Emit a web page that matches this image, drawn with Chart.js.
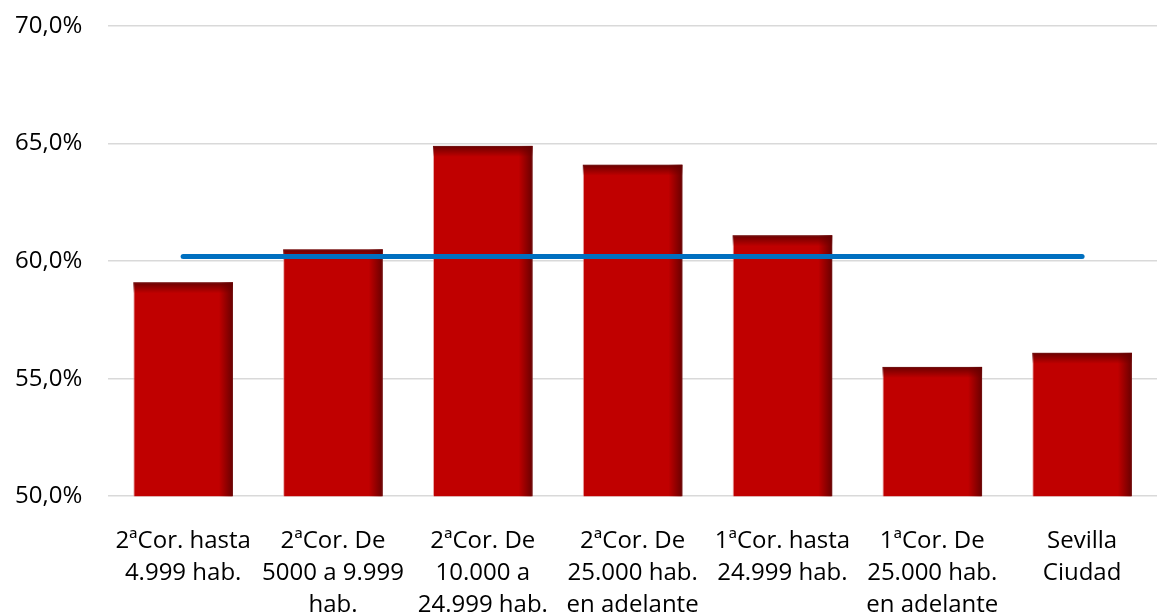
<!DOCTYPE html>
<html>
<head>
<meta charset="utf-8">
<script src="https://cdn.jsdelivr.net/npm/chart.js@4/dist/chart.umd.min.js"></script>
<style>
  html, body { margin: 0; padding: 0; background: #fff; }
  #wrap { width: 1157px; height: 616px; }
</style>
</head>
<body>
<div id="wrap"><canvas id="chart"></canvas></div>
<script>
/* data */
const categories = [
  ["2ªCor. hasta", "4.999 hab."],
  ["2ªCor. De", "5000 a 9.999", "hab."],
  ["2ªCor. De", "10.000 a", "24.999 hab."],
  ["2ªCor. De", "25.000 hab.", "en adelante"],
  ["1ªCor. hasta", "24.999 hab."],
  ["1ªCor. De", "25.000 hab.", "en adelante"],
  ["Sevilla", "Ciudad"]
];
const barValues = [59.1, 60.5, 64.9, 64.1, 61.1, 55.5, 56.1];
const avgValues = [60.2, 60.2, 60.2, 60.2, 60.2, 60.2, 60.2];
const yTicks = [50, 55, 60, 65, 70];

const FONT = "'Open Sans', 'Noto Sans', sans-serif";

/* dark shading on top and right edge of each bar */
const barShade = {
  id: "barShade",
  afterDatasetDraw(chart, args) {
    if (chart.data.datasets[args.index].type !== "bar") return;
    const ctx = chart.ctx;
    const bottom = chart.chartArea.bottom;
    args.meta.data.forEach(bar => {
      const left = bar.x - bar.width / 2;
      const right = bar.x + bar.width / 2;
      const h = Math.min(bar.base, bottom) - bar.y;

      let g = ctx.createLinearGradient(0, bar.y, 0, bar.y + 11);
      g.addColorStop(0, "rgba(100,0,0,0.95)");
      g.addColorStop(1, "rgba(100,0,0,0)");
      ctx.fillStyle = g;
      ctx.fillRect(left, bar.y, bar.width, 11);

      g = ctx.createLinearGradient(right - 14, 0, right, 0);
      g.addColorStop(0, "rgba(100,0,0,0)");
      g.addColorStop(1, "rgba(100,0,0,0.95)");
      ctx.fillStyle = g;
      ctx.fillRect(right - 14, bar.y, 14, h);
    });
  }
};

new Chart(document.getElementById("chart"), {
  data: {
    labels: categories,
    datasets: [
      {
        type: "line",
        data: avgValues,
        borderColor: "#0070C0",
        borderWidth: 5,
        borderCapStyle: "round",
        pointRadius: 0,
        order: 0
      },
      {
        type: "bar",
        data: barValues,
        backgroundColor: "#C00000",
        borderColor: "rgba(230,150,150,0.8)",
        borderWidth: 1,
        categoryPercentage: 1,
        barPercentage: 0.665,
        order: 1
      }
    ]
  },
  options: {
    responsive: true,
    maintainAspectRatio: false,
    animation: false,
    layout: { padding: { top: 0, right: -8, left: -11, bottom: -26 } },
    plugins: {
      legend: { display: false },
      tooltip: { enabled: false }
    },
    scales: {
      x: {
        afterFit: axis => { axis.paddingRight = 0; axis.paddingLeft = 0; },
        grid: { display: false },
        border: { display: false },
        ticks: {
          color: "#000",
          font: { family: FONT, size: 24, lineHeight: 1.33 },
          maxRotation: 0,
          autoSkip: false,
          padding: 21
        }
      },
      y: {
        min: yTicks[0],
        max: yTicks[yTicks.length - 1],
        afterBuildTicks: axis => { axis.ticks = yTicks.map(v => ({ value: v })); },
        afterFit: axis => { axis.paddingTop = 26; },
        border: { display: false },
        grid: { color: "#d9d9d9", lineWidth: 1.5, drawTicks: false },
        ticks: {
          color: "#000",
          font: { family: FONT, size: 24 },
          padding: 26,
          callback: v => v.toFixed(1).replace(".", ",") + "%"
        }
      }
    }
  },
  plugins: [barShade]
});
</script>
</body>
</html>
